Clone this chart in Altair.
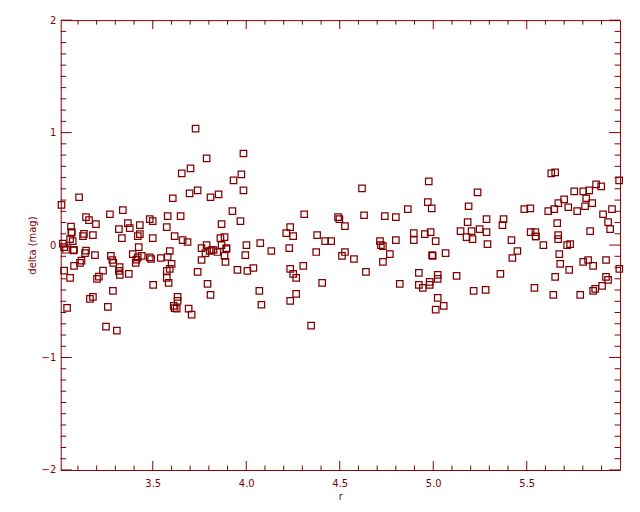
import altair as alt
import pandas as pd

# ---- data (r, delta) ----
r_a = [3.106, 3.012, 3.271, 3.340, 3.143, 3.159, 3.196, 3.063, 3.484, 3.500,
       3.367, 3.431, 3.377, 3.319, 3.067, 3.065, 3.132, 3.127, 3.180, 3.431,
       3.420, 3.335, 3.500, 3.058, 3.072, 3.019, 3.026, 3.036, 3.076, 3.079,
       3.143, 3.138, 3.191, 3.425, 3.393, 3.276, 3.284, 3.289, 3.420, 3.441,
       3.413, 3.409, 3.484, 3.491, 3.119, 3.111, 3.079, 3.026, 3.234, 3.323,
       3.319, 3.324, 3.372, 3.212, 3.202, 3.058, 3.502, 3.287, 3.180, 3.164,
       3.042, 3.260, 3.250, 3.308]
d_a = [0.425, 0.357, 0.274, 0.310, 0.248, 0.221, 0.186, 0.165, 0.230, 0.212,
       0.195, 0.177, 0.150, 0.142, 0.115, 0.109, 0.100, 0.080, 0.089, 0.097,
       0.080, 0.062, 0.062, 0.053, 0.035, 0.012, -0.018, -0.042, -0.048, -0.042,
       -0.050, -0.071, -0.089, -0.018, -0.080, -0.097, -0.133, -0.159, -0.110, -0.097,
       -0.130, -0.159, -0.110, -0.124, -0.139, -0.159, -0.186, -0.227, -0.227, -0.195,
       -0.230, -0.266, -0.257, -0.281, -0.301, -0.292, -0.354, -0.407, -0.460, -0.478,
       -0.558, -0.549, -0.726, -0.761]

r_b = [3.729, 3.985, 3.788, 3.702, 3.655, 3.974, 3.932, 3.985, 3.740, 3.697,
       3.852, 3.809, 3.607, 3.926, 3.969, 3.580, 3.649, 3.575, 3.868, 3.617,
       3.660, 3.686, 3.862, 3.884, 3.761, 3.788, 3.868, 4.001, 3.814, 3.782,
       3.804, 3.825, 3.846, 3.894, 3.894, 3.884, 3.995, 3.591, 3.580, 3.543,
       3.761, 3.889, 3.601, 3.591, 3.575, 3.575, 3.585, 3.740, 3.953, 4.006,
       3.793, 3.809, 3.633, 3.633, 3.612, 3.617, 3.628, 3.692, 3.708]
d_b = [1.035, 0.814, 0.770, 0.681, 0.637, 0.628, 0.575, 0.487, 0.487, 0.460,
       0.451, 0.425, 0.416, 0.301, 0.212, 0.257, 0.257, 0.159, 0.186, 0.080,
       0.044, 0.027, 0.062, 0.071, -0.027, 0.000, 0.000, 0.000, -0.044, -0.071,
       -0.053, -0.044, -0.062, -0.035, -0.027, -0.097, -0.089, -0.053, -0.106, -0.115,
       -0.133, -0.150, -0.168, -0.212, -0.230, -0.292, -0.336, -0.239, -0.221, -0.230,
       -0.345, -0.443, -0.460, -0.496, -0.540, -0.561, -0.566, -0.566, -0.619]

r_c = [4.310, 4.491, 4.498, 4.528, 4.235, 4.214, 4.251, 4.379, 4.422, 4.454,
       4.075, 4.230, 4.134, 4.374, 4.528, 4.512, 4.305, 4.038, 4.235, 4.251,
       4.267, 4.406, 4.070, 4.267, 4.235, 4.081, 4.347]
d_c = [0.274, 0.248, 0.230, 0.168, 0.159, 0.106, 0.080, 0.089, 0.035, 0.035,
       0.018, -0.027, -0.053, -0.062, -0.062, -0.097, -0.186, -0.204, -0.212, -0.257,
       -0.292, -0.336, -0.407, -0.434, -0.496, -0.531, -0.717]

r_d = [4.976, 4.619, 4.971, 4.992, 4.864, 4.630, 4.741, 4.800, 4.896, 4.955,
       4.986, 4.896, 5.013, 4.800, 4.715, 4.720, 4.731, 4.994, 4.997, 4.768,
       4.576, 4.731, 4.640, 4.923, 4.821, 4.923, 4.944, 4.981, 4.981, 5.024,
       5.024, 5.024, 5.013]
d_d = [0.566, 0.504, 0.381, 0.327, 0.319, 0.265, 0.257, 0.248, 0.106, 0.097,
       0.115, 0.044, 0.035, 0.044, 0.035, 0.000, -0.009, -0.089, -0.097, -0.080,
       -0.124, -0.150, -0.239, -0.248, -0.345, -0.354, -0.381, -0.327, -0.354, -0.265,
       -0.301, -0.469, -0.575]

r_e = [5.237, 5.189, 5.487, 5.519, 5.184, 5.285, 5.376, 5.370, 5.146, 5.205,
       5.248, 5.285, 5.178, 5.210, 5.290, 5.418, 5.521, 5.066, 5.450, 5.423,
       5.125, 5.359, 5.216, 5.280, 5.541, 5.056]
d_e = [0.469, 0.345, 0.319, 0.327, 0.204, 0.230, 0.230, 0.177, 0.124, 0.124,
       0.142, 0.115, 0.071, 0.053, 0.009, 0.044, 0.115, -0.071, -0.053, -0.115,
       -0.274, -0.257, -0.407, -0.398, -0.381, -0.540]

r_f = [5.631, 5.652, 5.994, 5.754, 5.802, 5.834, 5.871, 5.898, 5.700, 5.669,
       5.818, 5.850, 5.812, 5.722, 5.647, 5.615, 5.770, 5.956, 5.908, 5.935,
       5.946, 5.663, 5.839, 5.546, 5.548, 5.548, 5.668, 5.668, 5.589, 5.716,
       5.732, 5.674, 5.802, 5.828, 5.855, 5.924, 5.679, 5.727, 5.995, 5.652,
       5.924, 5.935, 5.903, 5.866, 5.855, 5.642, 5.786]
d_f = [0.637, 0.646, 0.575, 0.478, 0.478, 0.487, 0.540, 0.522, 0.407, 0.372,
       0.416, 0.372, 0.345, 0.336, 0.319, 0.301, 0.301, 0.319, 0.274, 0.204,
       0.142, 0.195, 0.124, 0.115, 0.076, 0.076, 0.089, 0.053, 0.000, 0.000,
       0.009, -0.080, -0.150, -0.133, -0.186, -0.133, -0.168, -0.221, -0.212, -0.283,
       -0.283, -0.310, -0.363, -0.389, -0.407, -0.443, -0.443]

# ---- axis tick values ----
x_major = [3.5, 4.0, 4.5, 5.0, 5.5]
x_minor = [3.1, 3.2, 3.3, 3.4, 3.6, 3.7, 3.8, 3.9, 4.1, 4.2, 4.3, 4.4,
           4.6, 4.7, 4.8, 4.9, 5.1, 5.2, 5.3, 5.4, 5.6, 5.7, 5.8, 5.9]
y_major = [-2, -1, 0, 1, 2]
y_minor = [-1.9, -1.8, -1.7, -1.6, -1.5, -1.4, -1.3, -1.2, -1.1,
           -0.9, -0.8, -0.7, -0.6, -0.5, -0.4, -0.3, -0.2, -0.1,
           0.1, 0.2, 0.3, 0.4, 0.5, 0.6, 0.7, 0.8, 0.9,
           1.1, 1.2, 1.3, 1.4, 1.5, 1.6, 1.7, 1.8, 1.9]

COL = "#800000"
W, H = 562, 452
FONT = "DejaVu Sans"

df = pd.DataFrame({
    "r": r_a + r_b + r_c + r_d + r_e + r_f,
    "delta": d_a + d_b + d_c + d_d + d_e + d_f,
})

xs = alt.Scale(domain=[3.008, 5.999], nice=False, zero=False)
ys = alt.Scale(domain=[-2, 2], nice=False, zero=False)

x_axis = alt.Axis(
    values=x_major, format=".1f", ticks=False, grid=False, domain=False,
    labelColor=COL, labelFont=FONT, labelFontSize=10, labelPadding=9,
    title="r", titleColor=COL, titleFont=FONT, titleFontSize=10,
    titleFontWeight="normal", titleX=W / 2, titleY=30,
    titleBaseline="alphabetic", titleAlign="center")
y_axis = alt.Axis(
    values=y_major, format="d", ticks=False, grid=False, domain=False,
    labelColor=COL, labelFont=FONT, labelFontSize=10, labelPadding=5,
    title="delta (mag)", titleColor=COL, titleFont=FONT, titleFontSize=10,
    titleFontWeight="normal", titleX=-28, titleY=H / 2, titleAngle=270,
    titleBaseline="middle", titleAlign="center")

points = alt.Chart(df).mark_point(
    shape="square", filled=False, size=42, strokeWidth=1.25, color=COL, opacity=1
).encode(
    x=alt.X("r:Q", scale=xs, axis=x_axis),
    y=alt.Y("delta:Q", scale=ys, axis=y_axis),
)


def xticks(vals, length):
    d = pd.DataFrame({"r": vals})
    bottom = alt.Chart(d).mark_rule(color=COL, strokeWidth=1).encode(
        x=alt.X("r:Q", scale=xs, axis=x_axis), y=alt.value(H), y2=alt.value(H - length))
    top = alt.Chart(d).mark_rule(color=COL, strokeWidth=1).encode(
        x=alt.X("r:Q", scale=xs, axis=x_axis), y=alt.value(0), y2=alt.value(length))
    return [bottom, top]


def yticks(vals, length):
    d = pd.DataFrame({"delta": vals})
    left = alt.Chart(d).mark_rule(color=COL, strokeWidth=1).encode(
        y=alt.Y("delta:Q", scale=ys, axis=y_axis), x=alt.value(0), x2=alt.value(length))
    right = alt.Chart(d).mark_rule(color=COL, strokeWidth=1).encode(
        y=alt.Y("delta:Q", scale=ys, axis=y_axis), x=alt.value(W), x2=alt.value(W - length))
    return [left, right]


layers = [points] + xticks(x_major, 9) + xticks(x_minor, 4.5) + yticks(y_major, 11) + yticks(y_minor, 5.5)

chart = alt.layer(*layers).properties(
    width=W, height=H,
    autosize=alt.AutoSizeParams(type="none"),
    padding={"left": 53, "top": 11, "right": 12, "bottom": 33},
    background="white",
).configure_view(stroke=COL, strokeWidth=1)

chart.save("out.html", embed_options={"renderer": "svg", "actions": False})
